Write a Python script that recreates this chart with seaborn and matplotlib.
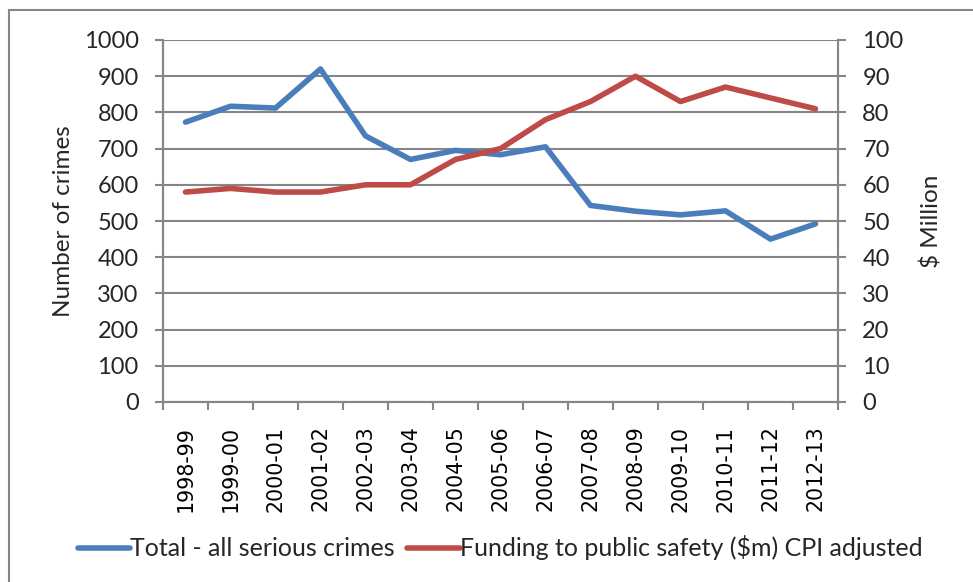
import matplotlib
matplotlib.use("Agg")
import matplotlib.pyplot as plt
from matplotlib.patches import Rectangle
from matplotlib.lines import Line2D
import numpy as np
import pandas as pd
import seaborn as sns

years = ["1998-99", "1999-00", "2000-01", "2001-02", "2002-03", "2003-04",
         "2004-05", "2005-06", "2006-07", "2007-08", "2008-09", "2009-10",
         "2010-11", "2011-12", "2012-13"]
crimes = [773, 817, 812, 920, 735, 670, 695, 683, 705, 543, 527, 517, 528, 450, 492]
funding = [58, 59, 58, 58, 60, 60, 67, 70, 78, 83, 90, 83, 87, 84, 81]

crime_label = "Total - all serious crimes"
funding_label = "Funding to public safety ($m) CPI adjusted"

BLUE = "#4A7EBB"
RED = "#BE4B48"
GRID = "#868686"

sns.set_theme(style="white")
plt.rcParams["font.family"] = ["Lato", "DejaVu Sans"]

df = pd.DataFrame({"pos": np.arange(len(years)), "year": years,
                   "crimes": crimes, "funding": funding})

fig = plt.figure(figsize=(9.73, 5.82), dpi=100)
W, H = 973, 582
ax = fig.add_axes([163 / W, 1 - 402 / H, (838 - 163) / W, (402 - 40) / H])
ax2 = ax.twinx()

sns.lineplot(data=df, x="pos", y="crimes", ax=ax, color=BLUE, lw=4,
             solid_capstyle="round", legend=False)
sns.lineplot(data=df, x="pos", y="funding", ax=ax2, color=RED, lw=4,
             solid_capstyle="round", legend=False)

ax.set_xlim(-0.5, len(years) - 0.5)
ax.set_ylim(0, 1000)
ax2.set_ylim(0, 100)
ax.set_yticks(np.arange(0, 1001, 100))
ax2.set_yticks(np.arange(0, 101, 10))

ax.grid(axis="y", color=GRID, lw=1.5)
ax.set_axisbelow(True)
ax.grid(axis="x", visible=False)
ax2.grid(False)

ax.set_xticks(np.arange(len(years)))
ax.set_xticklabels(years, rotation=90, family=["DejaVu Sans"], fontsize=14.8)
ax.set_xticks(np.arange(-0.5, len(years)), minor=True)
ax.tick_params(axis="x", which="major", length=0, pad=17, colors="black")
ax.tick_params(axis="x", which="minor", length=5.5, width=1.5, color=GRID,
               direction="out", bottom=True)
ax.tick_params(axis="y", length=5.5, width=1.5, color=GRID, direction="out",
               left=True, labelsize=17, pad=12)
ax2.tick_params(axis="y", length=5.5, width=1.5, color=GRID, direction="out",
                right=True, labelsize=17, pad=12)

for a in (ax, ax2):
    for side, sp in a.spines.items():
        sp.set_color(GRID)
        sp.set_linewidth(1.5)
    a.spines["top"].set_visible(False)

ax.set_xlabel("")
ax.set_ylabel("Number of crimes", fontsize=17.5, labelpad=7)
ax2.set_ylabel("$ Million", fontsize=17.5, labelpad=12)

handles = [Line2D([], [], color=BLUE, lw=4, solid_capstyle="round"),
           Line2D([], [], color=RED, lw=4, solid_capstyle="round")]
fig.legend(handles, [crime_label, funding_label], loc="center",
           bbox_to_anchor=(500 / W, 1 - 548 / H), ncol=2, frameon=False,
           fontsize=18, handlelength=2.1, handletextpad=0.0, columnspacing=0.5)

fig.patches.append(Rectangle((9 / W, -0.1), 1.2, 1 - 10 / H + 0.1,
                             transform=fig.transFigure, fill=False,
                             edgecolor=GRID, lw=1.5))

fig.savefig("out.png", dpi=100)
